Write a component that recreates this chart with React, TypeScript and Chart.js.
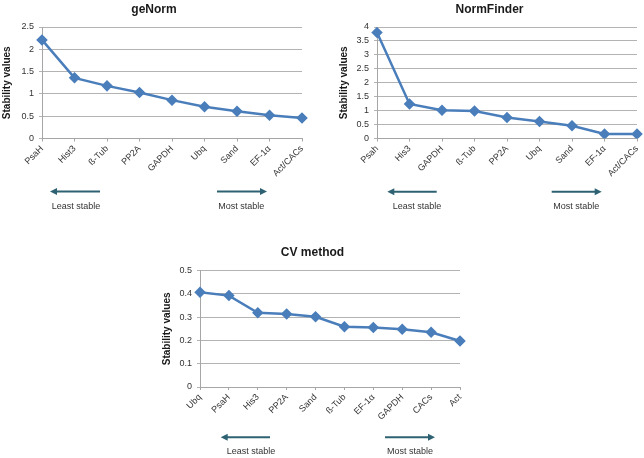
import React, { useEffect, useRef } from "react";
import { Chart, registerables } from "chart.js";

Chart.register(...registerables);

// ---------- data ----------
const geNormGenes = ["PsaH", "Hist3", "ß-Tub", "PP2A", "GAPDH", "Ubq", "Sand", "EF-1α", "Act/CACs"];
const geNormValues = [2.21, 1.36, 1.18, 1.03, 0.86, 0.71, 0.61, 0.52, 0.46];
const geNormTicks = [0, 0.5, 1, 1.5, 2, 2.5];

const normFinderGenes = ["Psah", "His3", "GAPDH", "ß-Tub", "PP2A", "Ubq", "Sand", "EF-1α", "Act/CACs"];
const normFinderValues = [3.8, 1.24, 1.01, 0.99, 0.75, 0.61, 0.46, 0.16, 0.16];
const normFinderTicks = [0, 0.5, 1, 1.5, 2, 2.5, 3, 3.5, 4];

const cvGenes = ["Ubq", "PsaH", "His3", "PP2A", "Sand", "ß-Tub", "EF-1α", "GAPDH", "CACs", "Act"];
const cvValues = [0.407, 0.393, 0.319, 0.314, 0.302, 0.259, 0.256, 0.248, 0.235, 0.198];
const cvTicks = [0, 0.1, 0.2, 0.3, 0.4, 0.5];

const yAxisTitle = "Stability values";
const leastLabel = "Least stable";
const mostLabel = "Most stable";

const FONT = "'Liberation Sans', Arial, Helvetica, sans-serif";
const LINE = "#4A7EBB";
const ARROW = "#2E6272";

type PanelProps = {
  labels: string[];
  values: number[];
  ticks: number[];
  left: number;
  top: number;
  width: number;
  height: number;
  axisWidth: number;
  padRight: number;
  plotTop: number;
  plotBottom: number;
  yTitlePad: number;
};

function Panel(p: PanelProps) {
  const ref = useRef<HTMLCanvasElement | null>(null);
  useEffect(() => {
    if (!ref.current) return;
    const chart = new Chart(ref.current, {
      type: "line",
      data: {
        labels: p.labels,
        datasets: [
          {
            data: p.values,
            borderColor: LINE,
            backgroundColor: LINE,
            borderWidth: 2.5,
            pointStyle: "rectRot",
            pointRadius: 4,
            pointBackgroundColor: LINE,
            pointBorderColor: LINE,
            tension: 0,
            fill: false,
          },
        ],
      },
      options: {
        animation: false,
        responsive: false,
        maintainAspectRatio: false,
        layout: { padding: { left: 0, right: p.padRight, top: p.plotTop, bottom: 0 } },
        plugins: {
          legend: { display: false },
          tooltip: { enabled: false },
          title: { display: false },
        },
        scales: {
          x: {
            type: "category",
            offset: false,
            grid: { drawOnChartArea: false, drawTicks: true, tickLength: 3, color: "#a6a6a6" },
            border: { display: true, color: "#a6a6a6", width: 1 },
            ticks: {
              autoSkip: false,
              minRotation: 45,
              maxRotation: 45,
              padding: 2,
              color: "#333333",
              font: { family: FONT, size: 9 },
            },
            afterFit: (s: any) => {
              s.height = p.height - p.plotBottom;
              s.paddingLeft = 0;
              s.paddingRight = 0;
            },
          },
          y: {
            type: "linear",
            min: p.ticks[0],
            max: p.ticks[p.ticks.length - 1],
            afterBuildTicks: (s: any) => {
              s.ticks = p.ticks.map((v) => ({ value: v }));
            },
            grid: { color: "#b3b3b3", tickLength: 3, lineWidth: 1 },
            border: { display: true, color: "#a6a6a6", width: 1 },
            ticks: {
              padding: 5,
              color: "#333333",
              font: { family: FONT, size: 9 },
              callback: (v: any) => String(v),
            },
            title: {
              display: true,
              text: yAxisTitle,
              color: "#1a1a1a",
              font: { family: FONT, size: 10, weight: "bold" },
              padding: { top: p.yTitlePad, bottom: 0 },
            },
            afterFit: (s: any) => {
              s.width = p.axisWidth;
            },
          },
        },
      } as any,
    });
    return () => chart.destroy();
  }, []);
  return (
    <canvas
      ref={ref}
      width={p.width}
      height={p.height}
      style={{ position: "absolute", left: p.left, top: p.top, width: p.width, height: p.height, display: "block" }}
    />
  );
}

function Arrow({ x1, x2, y, dir }: { x1: number; x2: number; y: number; dir: "left" | "right" }) {
  const head = 7;
  const hw = 3.5;
  if (dir === "left") {
    return (
      <g>
        <line x1={x1 + head - 1} y1={y} x2={x2} y2={y} stroke={ARROW} strokeWidth={2} />
        <polygon points={`${x1},${y} ${x1 + head},${y - hw} ${x1 + head},${y + hw}`} fill={ARROW} />
      </g>
    );
  }
  return (
    <g>
      <line x1={x1} y1={y} x2={x2 - head + 1} y2={y} stroke={ARROW} strokeWidth={2} />
      <polygon points={`${x2},${y} ${x2 - head},${y - hw} ${x2 - head},${y + hw}`} fill={ARROW} />
    </g>
  );
}

export default function App() {
  useEffect(() => {
    document.body.style.margin = "0";
  }, []);
  const titleStyle = { fontFamily: FONT, fontSize: 12, fontWeight: "bold" as const, fill: "#1a1a1a" };
  const noteStyle = { fontFamily: FONT, fontSize: 9, fill: "#333333" };
  return (
    <div style={{ position: "fixed", left: 0, top: 0, width: 644, height: 458, background: "#ffffff", overflow: "hidden" }}>
      <Panel
        labels={geNormGenes}
        values={geNormValues}
        ticks={geNormTicks}
        left={0}
        top={0}
        width={322}
        height={195}
        axisWidth={42}
        padRight={20}
        plotTop={27}
        plotBottom={138.5}
        yTitlePad={1}
      />
      <Panel
        labels={normFinderGenes}
        values={normFinderValues}
        ticks={normFinderTicks}
        left={322}
        top={0}
        width={322}
        height={195}
        axisWidth={55}
        padRight={7}
        plotTop={27}
        plotBottom={138.5}
        yTitlePad={16}
      />
      <Panel
        labels={cvGenes}
        values={cvValues}
        ticks={cvTicks}
        left={140}
        top={230}
        width={330}
        height={200}
        axisWidth={60}
        padRight={10}
        plotTop={40.7}
        plotBottom={157}
        yTitlePad={21}
      />
      <svg
        width={644}
        height={458}
        style={{ position: "absolute", left: 0, top: 0, pointerEvents: "none" }}
      >
        <text x={154} y={13} textAnchor="middle" style={titleStyle}>geNorm</text>
        <text x={489.5} y={12.5} textAnchor="middle" style={titleStyle}>NormFinder</text>
        <text x={312.5} y={256} textAnchor="middle" style={titleStyle}>CV method</text>

        <Arrow x1={50} x2={100} y={191.5} dir="left" />
        <Arrow x1={217} x2={267} y={191.5} dir="right" />
        <text x={76} y={209} textAnchor="middle" style={noteStyle}>{leastLabel}</text>
        <text x={241.3} y={209} textAnchor="middle" style={noteStyle}>{mostLabel}</text>

        <Arrow x1={387.3} x2={436.7} y={191.7} dir="left" />
        <Arrow x1={551.7} x2={601.7} y={191.7} dir="right" />
        <text x={417} y={209} textAnchor="middle" style={noteStyle}>{leastLabel}</text>
        <text x={576.3} y={209} textAnchor="middle" style={noteStyle}>{mostLabel}</text>

        <Arrow x1={220.7} x2={270} y={437.3} dir="left" />
        <Arrow x1={385} x2={435} y={437.3} dir="right" />
        <text x={251} y={454} textAnchor="middle" style={noteStyle}>{leastLabel}</text>
        <text x={410} y={454} textAnchor="middle" style={noteStyle}>{mostLabel}</text>
      </svg>
    </div>
  );
}
